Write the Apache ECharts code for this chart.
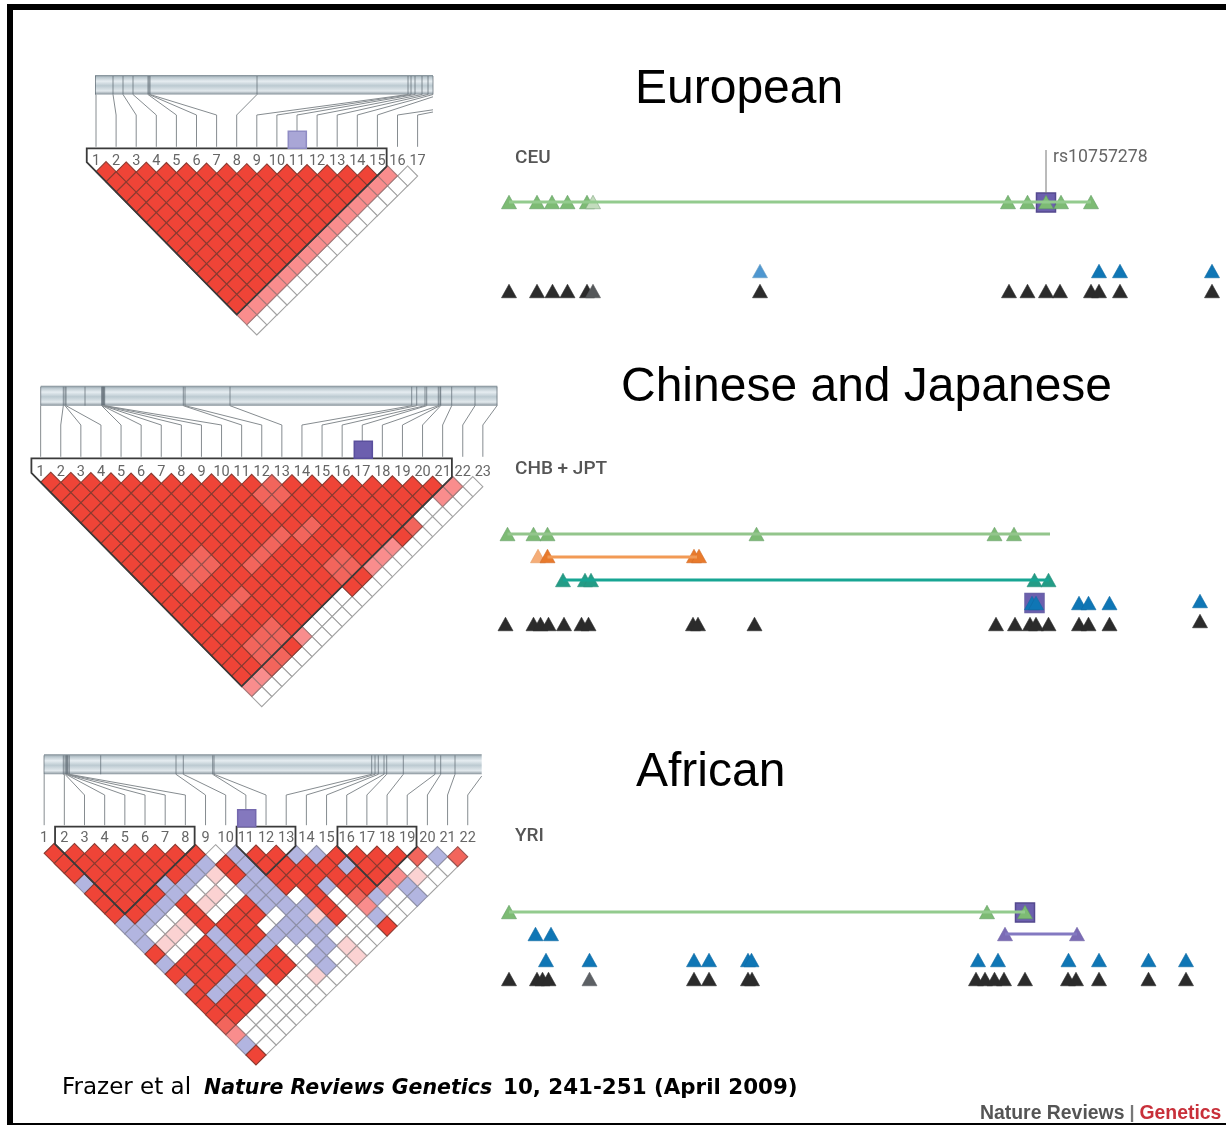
<!DOCTYPE html>
<html><head><meta charset="utf-8">
<style>html,body{margin:0;padding:0;background:#fff}#c{width:1226px;height:1125px}</style>
<script src="https://cdn.jsdelivr.net/npm/echarts@6/dist/echarts.min.js"></script>
</head><body><div id="c"></div>
<script>
// ---------- LD rows: one string per SNP distance, one letter per SNP pair
// r red, m salmon, p pink, q pale pink, b lilac, w white
const ceuLD = ["rrrrrrrrrrrrrrpw","rrrrrrrrrrrrrpw","rrrrrrrrrrrrpw","rrrrrrrrrrrpw","rrrrrrrrrrpw","rrrrrrrrrpw","rrrrrrrrpw","rrrrrrrpw","rrrrrrpw","rrrrrpw","rrrrpw","rrrpw","rrpw","rpw","pw","w"];
const chbLD = ["rrrrrrrrrrrmrrrrrrrrpw","rrrrrrrrrrmmrrrrrrrpw","rrrrrrrrrrmrrrrrrrww","rrrrrrrrrrrrrrrrrww","rrrrrrrrrrrmrrrrmw","rrrrrrrrrmmrrrrrw","rrrrrrrrmrrrrrpw","rrrrmrrmrrrmrpw","rrrmmrmrrrmmpw","rrmmrrrrrrmrw","rrmrrrrrrrrw","rrrrmrrrrww","rrrmrrrrww","rrmrrrrww","rrrrmrww","rrrmmpw","rrmmrw","rrmmw","rrmw","rpw","pw","w"];
const yriLD = ["rrrrrrrrwbrrbbrrrrmbm","rrrrrrrbrbrrrrbrrwww","rrrrrrbqrbrrrrrrpqw","brrrbbwwbbrrbrrpbw","rrrrbwqwbbwrwmbwb","rrrbrqwrbbbrwpww","rrbwrwrrwbqrwbw","bbwqrrrwbbbwwr","bwqwbrrbbbwww","bqwrbrbwwbqw","rwrrbbrwbwq","brrrbrrwbw","rrrbbrwqw","brbrwwww","rbrrwww","rrrwww","rrwww","mwww","pww","bw","r"];
// ---------- haplotype blocks (first SNP, last SNP)
const ceuBlocks = [[1,15]];
const chbBlocks = [[1,21]];
const yriBlocks = [[2,8],[11,13],[16,19]];
// ---------- SNP positions on the chromosome bars
const ceuBarPos = [95.5,113,123,133,148,149,150,257,408,411,415,422,428,433,440,537,523];
const chbBarPos = [40.7,63.3,65,66,101.7,102.3,103,103.3,104,104.7,183.3,185,230,411.7,416.7,425,426.7,438.3,440,440.7,451.7,475,497];
const yriBarPos = [44,63.3,65,66,66.7,67.3,68,69.3,176,183.3,212.7,214,371.7,375,378.3,384,386.7,403.3,435,440.7,455,483];
const yriExtraBarTicks = [100.7];
const chbExtraBarTicks = [85];
// ---------- tagging-SNP tracks: positions along each row
const ceuGreen = [509,537,552,567.5,587,1008,1027.5,1046,1061,1091];
const ceuGreenPale = [593];
const ceuBluePale = [760];
const ceuBlue = [1099,1120,1212];
const ceuBlack = [509,537,552.5,567.5,587,760,1009,1027.5,1046,1060,1091,1099,1120,1212];
const ceuGrey = [593];
const chbGreen = [507.5,533.5,547.5,756.5,994.5,1014];
const chbOrangePale = [538];
const chbOrange = [547.5,694,699];
const chbTeal = [563,585,591,1034.5,1048.5];
const chbBlue = [1032,1036,1079,1088.5,1109.5];
const chbBlueFar = [1200];
const chbBlack = [505.5,533.5,540.5,548.5,564,581.5,588.5,693,698,754.5,996,1015,1030,1036,1048.5,1079,1088.5,1109.5];
const chbBlackFar = [1200];
const yriGreen = [509,987,1025];
const yriBlueTop = [535.5,551];
const yriPurple = [1005,1077];
const yriBlue = [546,589.5,694,709,748,751.5,978,998,1068.5,1099,1148.5,1186];
const yriBlack = [509,537,542.5,548.5,694,709,748,752,976,985,994.5,1004,1025,1068,1076,1099,1148.5,1186];
const yriGrey = [589.5];
// ---------- text
const titleEuropean = "European", titleAsian = "Chinese and Japanese", titleAfrican = "African";
const popCEU = "CEU", popCHB = "CHB + JPT", popYRI = "YRI", snpName = "rs10757278";

const CONDENSED = 'Roboto,"Liberation Sans",sans-serif';
const C = {r:'#ef4437',m:'#f2655c',p:'#f98d8d',q:'#fbd2d2',b:'#b2b5e0',w:'#ffffff'};
const S = {r:'#8c3a30',m:'#97504c',p:'#a87878',q:'#a89a9a',b:'#8e90a8',w:'#a2a2a2'};
const panels = [
 {n:17,rows:ceuLD,blocks:ceuBlocks,pos:ceuBarPos,extra:[],x0:75.9,dx:20.1,y1:171.7,dy:10.07,tilt:0.29,barL:95,barR:433,barT:75,barB:94.5,fan:115,boxTop:148.3,labelGap:0},
 {n:23,rows:chbLD,blocks:chbBlocks,pos:chbBarPos,extra:chbExtraBarTicks,x0:20.55,dx:20.1,y1:482.3,dy:10.1,tilt:0.21,barL:40.7,barR:497.3,barT:385.7,barB:405.7,fan:425,boxTop:458.3,labelGap:0},
 {n:22,rows:yriLD,blocks:yriBlocks,pos:yriBarPos,extra:yriExtraBarTicks,x0:24,dx:20.17,y1:853.3,dy:10,tilt:0.17,barL:44,barR:481.7,barT:754.3,barB:774.3,fan:795,boxTop:826.7,labelGap:5}
];
const grids=[{left:0,top:0,width:1226,height:1125}], xAxes=[{type:'value',min:0,max:1226,show:false,gridIndex:0}], yAxes=[{type:'value',min:0,max:1125,inverse:true,show:false,gridIndex:0}];
panels.forEach((p,k)=>{
  grids.push({left:p.x0,top:p.y1-p.dy,width:(p.n+1)*p.dx,height:p.n*p.dy});
  xAxes.push({type:'value',gridIndex:k+1,min:0,max:p.n+1,interval:1,position:'top',axisLine:{show:false},axisTick:{show:false},splitLine:{show:false},
    axisLabel:{show:true,margin:p.labelGap,verticalAlign:'middle',hideOverlap:false,color:'#666',fontFamily:CONDENSED,fontSize:14.5,
      showMinLabel:true,showMaxLabel:true,formatter:v=>(v>=1&&v<=p.n)?String(v):''}});
  yAxes.push({type:'value',gridIndex:k+1,min:0,max:p.n,inverse:true,show:false});
});
const series=[];
const grad={type:'linear',x:0,y:0,x2:0,y2:1,colorStops:[{offset:0,color:'#7f8c94'},{offset:.12,color:'#b9c6cd'},{offset:.32,color:'#e6edf1'},{offset:.55,color:'#bccad1'},{offset:.82,color:'#e2e9ed'},{offset:1,color:'#86929a'}]};
panels.forEach((p,k)=>{
  // chromosome bar
  series.push({type:'custom',xAxisIndex:0,yAxisIndex:0,silent:true,data:[[p.barL,p.barR,p.barT,p.barB]],encode:{x:[0,1],y:[2,3]},
    renderItem:(ps,api)=>{const a=api.coord([api.value(0),api.value(2)]),b=api.coord([api.value(1),api.value(3)]);
      return {type:'rect',shape:{x:a[0],y:a[1],width:b[0]-a[0],height:b[1]-a[1]},style:{fill:grad}};}});
  // ticks on bar
  series.push({type:'custom',xAxisIndex:0,yAxisIndex:0,silent:true,data:p.pos.concat(p.extra).filter(v=>v<=p.barR).map(v=>[v]),encode:{x:0},
    renderItem:(ps,api)=>{const a=api.coord([api.value(0),p.barT+1]),b=api.coord([api.value(0),p.barB]);
      return {type:'line',shape:{x1:a[0],y1:a[1],x2:b[0],y2:b[1]},style:{stroke:'#5c6870',lineWidth:1,opacity:.7}};}});
  // connectors
  series.push({type:'custom',xAxisIndex:0,yAxisIndex:0,silent:true,data:p.pos.map((v,i)=>[v,i+1]),encode:{x:0},
    renderItem:(ps,api)=>{const v=api.value(0),i=api.value(1),lx=p.x0+i*p.dx;let ex=v,ey=p.barB;
      const fan=Math.abs(v-lx)<2?p.barB:p.fan;
      if(v>p.barR){ex=p.barR;ey=fan+(p.barB-fan)*(p.barR-lx)/(v-lx);}
      const pts=[[ex,ey],[lx,fan],[lx,p.boxTop-1.5]].map(q=>api.coord(q));
      return {type:'polyline',shape:{points:pts},style:{stroke:'#868c90',lineWidth:1,fill:null}};}});
  // LD cells
  const cells=[];
  p.rows.forEach((row,r)=>{for(let i=0;i<row.length;i++){const d=r+1;cells.push([i+1+d/2,d,row[i]]);}});
  const ord={w:0,q:1,b:2,p:3,m:4,r:5};
  cells.sort((a,b)=>ord[a[2]]-ord[b[2]]);
  series.push({type:'custom',xAxisIndex:k+1,yAxisIndex:k+1,silent:true,data:cells.map(c=>[c[0],c[1],'rmpqbw'.indexOf(c[2])]),dimensions:['c','d','code'],encode:{x:0,y:1},
    renderItem:(ps,api)=>{const c=api.value(0),d=api.value(1),code='rmpqbw'[api.value(2)];
      const pt=api.coord([c,d]),sz=api.size([1,1]),hx=sz[0]/2,hy=sz[1],yy=pt[1]+p.tilt*(c-1.5);
      return {type:'polygon',shape:{points:[[pt[0],yy-hy],[pt[0]+hx,yy],[pt[0],yy+hy],[pt[0]-hx,yy]]},style:{fill:C[code],stroke:S[code],lineWidth:1.1}};}});
  // block outlines
  const topRow=(p.boxTop-p.y1)/p.dy+1;
  series.push({type:'custom',xAxisIndex:k+1,yAxisIndex:k+1,silent:true,data:p.blocks,encode:{x:[0,1]},
    renderItem:(ps,api)=>{const i=api.value(0),j=api.value(1),ca=(i+j)/2;
      const lift=(c,d,t)=>{const q=api.coord([c,d]);return [q[0],q[1]+(t?p.tilt*(c-1.5):0)];};
      const pts=[lift(i-.46,topRow,0),lift(j+.46,topRow,0),lift(j+.46,.08,1),lift(ca,j-i+1,1),lift(i-.46,.08,1)];
      return {type:'polygon',shape:{points:pts},style:{fill:null,stroke:'#3a3a3a',lineWidth:1.8}};}});
});
// helpers for tracks
const tri=(name,xs,y,fill,stroke)=>({type:'scatter',name,xAxisIndex:0,yAxisIndex:0,silent:true,symbol:'triangle',symbolSize:[15,13.5],
  data:xs.map(x=>[x,y]),itemStyle:{color:fill,borderColor:stroke,borderWidth:.6,opacity:1}});
const hap=(xs,y,color)=>({type:'line',xAxisIndex:0,yAxisIndex:0,silent:true,symbol:'none',data:xs.map(x=>[x,y]),lineStyle:{color,width:3},itemStyle:{color}});
const sq=(x,y,w,h,fill,stroke)=>({type:'scatter',xAxisIndex:0,yAxisIndex:0,silent:true,symbol:'rect',symbolSize:[w,h],data:[[x,y]],itemStyle:{color:fill,borderColor:stroke,borderWidth:1.5,opacity:1}});
const GF='#7dbb74',GS='#5f9a63',BF='#0f76b5',BS='#0f6aa3',KF='#2b2b2b',KS='#2b2b2b';
series.push(
  // LD-plot tag squares
  sq(297.3,139.7,18,17,'#a9a6d6','#8f8cc4'), sq(363.3,449.7,18,17,'#6c5fae','#5a4f9d'), sq(246.7,818.3,18,17,'#8478be','#7468ae'),
  // CEU
  {type:'line',xAxisIndex:0,yAxisIndex:0,silent:true,symbol:'none',data:[[1046,150],[1046,193]],lineStyle:{color:'#777',width:1}},
  hap([509,1091],202,'#93cb8e'), sq(1046,202.5,19,19,'#6c5fae','#54498f'),
  tri('CEU tag',ceuGreen,202,GF,GS), tri('CEU tag light',ceuGreenPale,202,'#c3dcbd','#7fa57f'),
  tri('CEU blue',ceuBluePale,271,'#4e97d0','#6f9fc2'), tri('CEU blue',ceuBlue,271,BF,BS),
  tri('CEU all',ceuBlack,291,KF,KS), tri('CEU all',ceuGrey,291,'#55585a','#55585a'),
  // CHB+JPT
  hap([507.5,1050],534,'#93c58c'), hap([547.5,697],557,'#f29a55'), hap([563,1049],580,'#17a593'),
  tri('CHB green',chbGreen,534,GF,'#6a9f6b'),
  tri('CHB orange',chbOrangePale,556,'#f5ad78','#e59a60'), tri('CHB orange',chbOrange,556,'#e87a2c','#d16d28'),
  tri('CHB teal',chbTeal,580,'#239c86','#2a8f7c'),
  sq(1034.5,603,19,19,'#6c5fae','#6a62a8'),
  tri('CHB blue',chbBlue,603,BF,BS), tri('CHB blue',chbBlueFar,601,BF,BS),
  tri('CHB all',chbBlack,624,KF,KS), tri('CHB all',chbBlackFar,621,KF,KS),
  // YRI
  hap([509,1025],912,'#93cb8e'), hap([1005,1077],934,'#8379c1'),
  sq(1025,912.5,19,19,'#6c5fae','#54498f'),
  tri('YRI green',yriGreen,912,GF,GS),
  tri('YRI blue',yriBlueTop,934,BF,BS), tri('YRI purple',yriPurple,934,'#7b6bb5','#6f62a5'),
  tri('YRI blue',yriBlue,960,BF,BS),
  tri('YRI all',yriBlack,979,KF,KS), tri('YRI all',yriGrey,979,'#5c6064','#5c6064')
);
const head=(text,left,top)=>({text,left,top,padding:0,textStyle:{fontFamily:'"Liberation Sans",Arial,sans-serif',fontWeight:'normal',fontSize:48,color:'#000'}});
const pop=(text,left,top)=>({text,left,top,padding:0,textStyle:{fontFamily:CONDENSED,fontWeight:500,fontSize:19,color:'#555'}});
const chart=echarts.init(document.getElementById('c'));
chart.setOption({
  animation:false,backgroundColor:'#fff',
  grid:grids,xAxis:xAxes,yAxis:yAxes,series,
  title:[
    head(titleEuropean,635,66),head(titleAsian,621,364),head(titleAfrican,636,749),
    pop(popCEU,515,149),pop(popCHB,515,460),pop(popYRI,515,827),
    {text:snpName,left:1053,top:149,padding:0,textStyle:{fontFamily:CONDENSED,fontWeight:'normal',fontSize:17.7,color:'#666'}},
    {text:"Frazer et al",left:62,top:1077,padding:0,textStyle:{fontFamily:'"DejaVu Sans",sans-serif',fontWeight:'normal',fontSize:23,color:'#000'}},
    {text:"Nature Reviews Genetics",left:204,top:1079,padding:0,textStyle:{fontFamily:'"DejaVu Sans",sans-serif',fontWeight:'bold',fontStyle:'italic',fontSize:20.5,color:'#000'}},
    {text:"10, 241-251 (April 2009)",left:503,top:1078,padding:0,textStyle:{fontFamily:'"DejaVu Sans",sans-serif',fontWeight:'bold',fontSize:21.4,color:'#000'}},
    {text:"{a|Nature Reviews} {s||} {b|Genetics}",left:980,top:1104,padding:0,textStyle:{rich:{
      a:{fontFamily:'"Liberation Sans"',fontWeight:'bold',fontSize:19.4,color:'#555'},s:{fontFamily:'"Liberation Sans"',fontSize:18,color:'#777'},b:{fontFamily:'"Liberation Sans"',fontWeight:'bold',fontSize:19.4,color:'#c8303a'}}}}
  ],
  graphic:[
    {type:'rect',shape:{x:7,y:4,width:6,height:1121},style:{fill:'#000'},z:100},
    {type:'rect',shape:{x:7,y:4,width:1219,height:6},style:{fill:'#000'},z:100},
    {type:'rect',shape:{x:7,y:1123,width:1219,height:2},style:{fill:'#000'},z:100}
  ]
});
</script></body></html>
